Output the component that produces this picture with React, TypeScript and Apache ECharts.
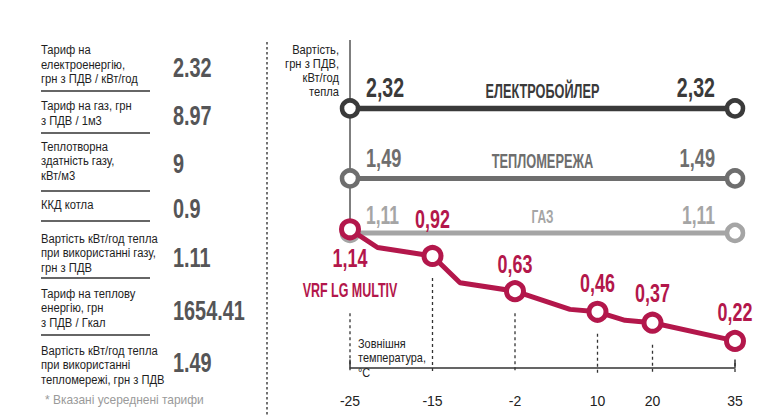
import { useEffect, useRef } from 'react';
import * as echarts from 'echarts';

// ---------- data ----------
const tempSlots = ['-25', '', '', '-15', '', '', '-2', '', '', '10', '', '20', '', '', '35'];
const vrfValues: (number | null)[] = [1.14, 0.99, null, 0.92, 0.7, null, 0.63, null, 0.48, 0.46, 0.39, 0.37, null, null, 0.22];
const vrfName = 'VRF LG MULTIV';
const tariffNames = ['ЕЛЕКТРОБОЙЛЕР', 'ТЕПЛОМЕРЕЖА', 'ГАЗ'];
const tariffCosts = [2.32, 1.49, 1.11];

const tableLabels = [
  'Тариф на\nелектроенергію,\nгрн з ПДВ / кВт/год',
  'Тариф на газ, грн\nз ПДВ / 1м3',
  'Теплотворна\nздатність газу,\nкВт/м3',
  'ККД котла',
  'Вартість кВт/год тепла\nпри використанні газу,\nгрн з ПДВ',
  'Тариф на теплову\nенергію, грн\nз ПДВ / Гкал',
  'Вартість кВт/год тепла\nпри використанні\nтепломережі, грн з ПДВ',
];
const tableValues = ['2.32', '8.97', '9', '0.9', '1.11', '1654.41', '1.49'];
const footnote = '* Вказані усереднені тарифи';
const yTitle = 'Вартість,\nгрн з ПДВ,\nкВт/год\nтепла';
const xTitle = 'Зовнішня\nтемпература,\n°C';

// ---------- layout / style ----------
const FONT = "'Liberation Sans', Arial, Helvetica, sans-serif";
const tableTextY = [64.5, 113, 161, 205, 253, 308, 365];
const tableValueY = [67, 115, 163, 208, 257, 310, 362];
const tableRuleY = [91, 133, 191, 221, 278, 335];
const tariffColors = ['#3a3a3a', '#6e6e6e', '#a5a5a5'];
const tariffWidths = [5.5, 5, 5];
const tariffValueSize = [28, 26, 25];
const tariffValueDy = [-21, -20, -18];
const tariffNameSize = [21, 20, 18];
const tariffNameScale = [0.605, 0.64, 0.66];
const tariffNameDy = [-18, -17.5, -16.5];
const RED = '#b3174b';
const NUM_SCALE = 0.7;

const comma = (v: number) => v.toFixed(2).replace('.', ',');

type Lbl = {
  x: number; v: number; text: string; color: string; size: number;
  sx: number; align: string; dx: number; dy: number;
};

const labelSeries = (yAxisIndex: number, items: Lbl[]) => ({
  type: 'custom',
  yAxisIndex,
  z: 6,
  silent: true,
  data: items.map((it) => [it.x, it.v]),
  renderItem: (params: any, api: any) => {
    const it = items[params.dataIndex];
    const p = api.coord([api.value(0), api.value(1)]);
    return {
      type: 'text',
      x: p[0] + it.dx,
      y: p[1] + it.dy,
      scaleX: it.sx,
      style: {
        text: it.text, fill: it.color, fontSize: it.size, fontWeight: 'bold',
        fontFamily: FONT, align: it.align, verticalAlign: 'middle',
      },
    };
  },
});

export default function App() {
  const ref = useRef<HTMLDivElement>(null);
  useEffect(() => {
    if (!ref.current) return;
    const chart = echarts.init(ref.current, undefined, { renderer: 'svg' });
    const first = 0;
    const last = tempSlots.length - 1;
    const mid = Math.round(last / 2);

    const tariffSeries = tariffNames.map((name, i) => {
      const color = tariffColors[i];
      return {
        type: 'line',
        name,
        yAxisIndex: i < 2 ? 1 : 0,
        z: 3,
        silent: true,
        symbol: 'circle',
        symbolSize: 16,
        lineStyle: { color, width: tariffWidths[i] },
        itemStyle: { color: '#fff', borderColor: color, borderWidth: 4.5 },
        emphasis: { disabled: true },
        data: [[first, tariffCosts[i]], [last, tariffCosts[i]]],
      };
    });

    const tariffLabels = (idxs: number[]) => {
      const out: Lbl[] = [];
      idxs.forEach((i) => {
        const v = tariffCosts[i];
        const color = tariffColors[i];
        out.push({ x: first, v, text: comma(v), color, size: tariffValueSize[i], sx: NUM_SCALE, align: 'left', dx: 16, dy: tariffValueDy[i] });
        out.push({ x: mid, v, text: tariffNames[i], color, size: tariffNameSize[i], sx: tariffNameScale[i], align: 'center', dx: 0, dy: tariffNameDy[i] });
        out.push({ x: last, v, text: comma(v), color, size: tariffValueSize[i], sx: NUM_SCALE, align: 'right', dx: -20, dy: tariffValueDy[i] });
      });
      return out;
    };

    const vrfLabels: Lbl[] = [];
    tempSlots.forEach((t, i) => {
      const v = vrfValues[i];
      if (t === '' || v == null) return;
      if (i === 0) {
        vrfLabels.push({ x: i, v, text: comma(v), color: RED, size: 26, sx: 0.69, align: 'center', dx: 0, dy: 29 });
        vrfLabels.push({ x: i, v, text: vrfName, color: RED, size: 19.5, sx: 0.64, align: 'center', dx: 0, dy: 60.5 });
      } else {
        const dy = i === 3 ? -37 : i === 6 ? -27 : -29;
        vrfLabels.push({ x: i, v, text: comma(v), color: RED, size: 26, sx: 0.69, align: 'center', dx: 0, dy });
      }
    });

    const vrfData = vrfValues.map((v, i) => {
      if (v == null) return '-';
      if (tempSlots[i] === '') return { value: v, symbol: 'none' };
      return v;
    });

    const guideData = tempSlots
      .map((t, i) => (t === '' ? null : [i, vrfValues[i] as number]))
      .filter((d) => d !== null);

    const option: any = {
      animation: false,
      backgroundColor: '#ffffff',
      grid: { left: 350, right: 29, top: 40, bottom: 32 },
      xAxis: {
        type: 'category',
        data: tempSlots,
        boundaryGap: false,
        axisLine: { show: true, lineStyle: { color: '#333', width: 1.5 } },
        axisTick: {
          show: true,
          inside: true,
          length: 8,
          interval: (i: number) => i === 0 || i === tempSlots.length - 1,
          lineStyle: { color: '#333', width: 1.5 },
        },
        axisLabel: { interval: 0, color: '#222', fontFamily: FONT, fontSize: 14, margin: 10 },
        splitLine: { show: false },
      },
      yAxis: [
        { type: 'value', min: -0.135, max: 2.7, show: false },
        { type: 'value', min: -0.947, max: 3.132, show: false },
      ],
      series: [
        {
          type: 'custom',
          z: 1,
          silent: true,
          data: guideData,
          renderItem: (params: any, api: any) => {
            const p = api.coord([api.value(0), api.value(1)]);
            const cs = params.coordSys;
            const isFirst = params.dataIndex === 0;
            const children: any[] = [
              {
                type: 'line',
                shape: { x1: p[0], y1: p[1] + (isFirst ? 84 : 22), x2: p[0], y2: cs.y + cs.height - 11 },
                style: { stroke: '#333', lineWidth: 1.3, lineDash: [3, 3] },
              },
            ];
            if (isFirst) {
              children.push({
                type: 'line',
                shape: { x1: p[0], y1: cs.y, x2: p[0], y2: p[1] },
                style: { stroke: '#555', lineWidth: 1.5 },
              });
            }
            return { type: 'group', children };
          },
        },
        ...tariffSeries,
        {
          type: 'line',
          name: vrfName,
          yAxisIndex: 0,
          z: 4,
          silent: true,
          connectNulls: true,
          symbol: 'circle',
          symbolSize: 17,
          lineStyle: { color: RED, width: 5 },
          itemStyle: { color: '#fff', borderColor: RED, borderWidth: 5 },
          emphasis: { disabled: true },
          data: vrfData,
        },
        labelSeries(1, tariffLabels([0, 1])),
        labelSeries(0, [...tariffLabels([2]), ...vrfLabels]),
      ],
      graphic: [
        {
          type: 'line',
          shape: { x1: 267, y1: 42, x2: 267, y2: 416 },
          style: { stroke: '#444', lineWidth: 1.5, lineDash: [2.5, 2.5] },
        },
        ...tableLabels.map((t, i) => ({
          type: 'text',
          x: 41,
          y: tableTextY[i],
          scaleX: 0.83,
          style: { text: t, fill: '#1e1e1e', fontSize: 13.5, fontFamily: FONT, lineHeight: 14.5, align: 'left', verticalAlign: 'middle' },
        })),
        ...tableValues.map((t, i) => ({
          type: 'text',
          x: 173,
          y: tableValueY[i],
          scaleX: 0.71,
          style: { text: t, fill: '#555557', fontSize: 28, fontWeight: 'bold', fontFamily: FONT, align: 'left', verticalAlign: 'middle' },
        })),
        ...tableRuleY.map((y) => ({
          type: 'line',
          shape: { x1: 41, y1: y, x2: 150, y2: y },
          style: { stroke: '#333', lineWidth: 1.5 },
        })),
        {
          type: 'text',
          x: 45,
          y: 400,
          scaleX: 0.92,
          style: { text: footnote, fill: '#9a9a9a', fontSize: 13, fontFamily: FONT, align: 'left', verticalAlign: 'middle' },
        },
        {
          type: 'text',
          x: 339,
          y: 71,
          scaleX: 0.86,
          style: { text: yTitle, fill: '#222', fontSize: 13, fontFamily: FONT, lineHeight: 14, align: 'right', verticalAlign: 'middle' },
        },
        {
          type: 'text',
          x: 358,
          y: 358,
          scaleX: 0.84,
          style: { text: xTitle, fill: '#222', fontSize: 13, fontFamily: FONT, lineHeight: 14.5, align: 'left', verticalAlign: 'middle' },
        },
      ],
    };
    chart.setOption(option);
    return () => chart.dispose();
  }, []);
  return <div ref={ref} style={{ position: 'fixed', left: 0, top: 0, width: 764, height: 416 }} />;
}
